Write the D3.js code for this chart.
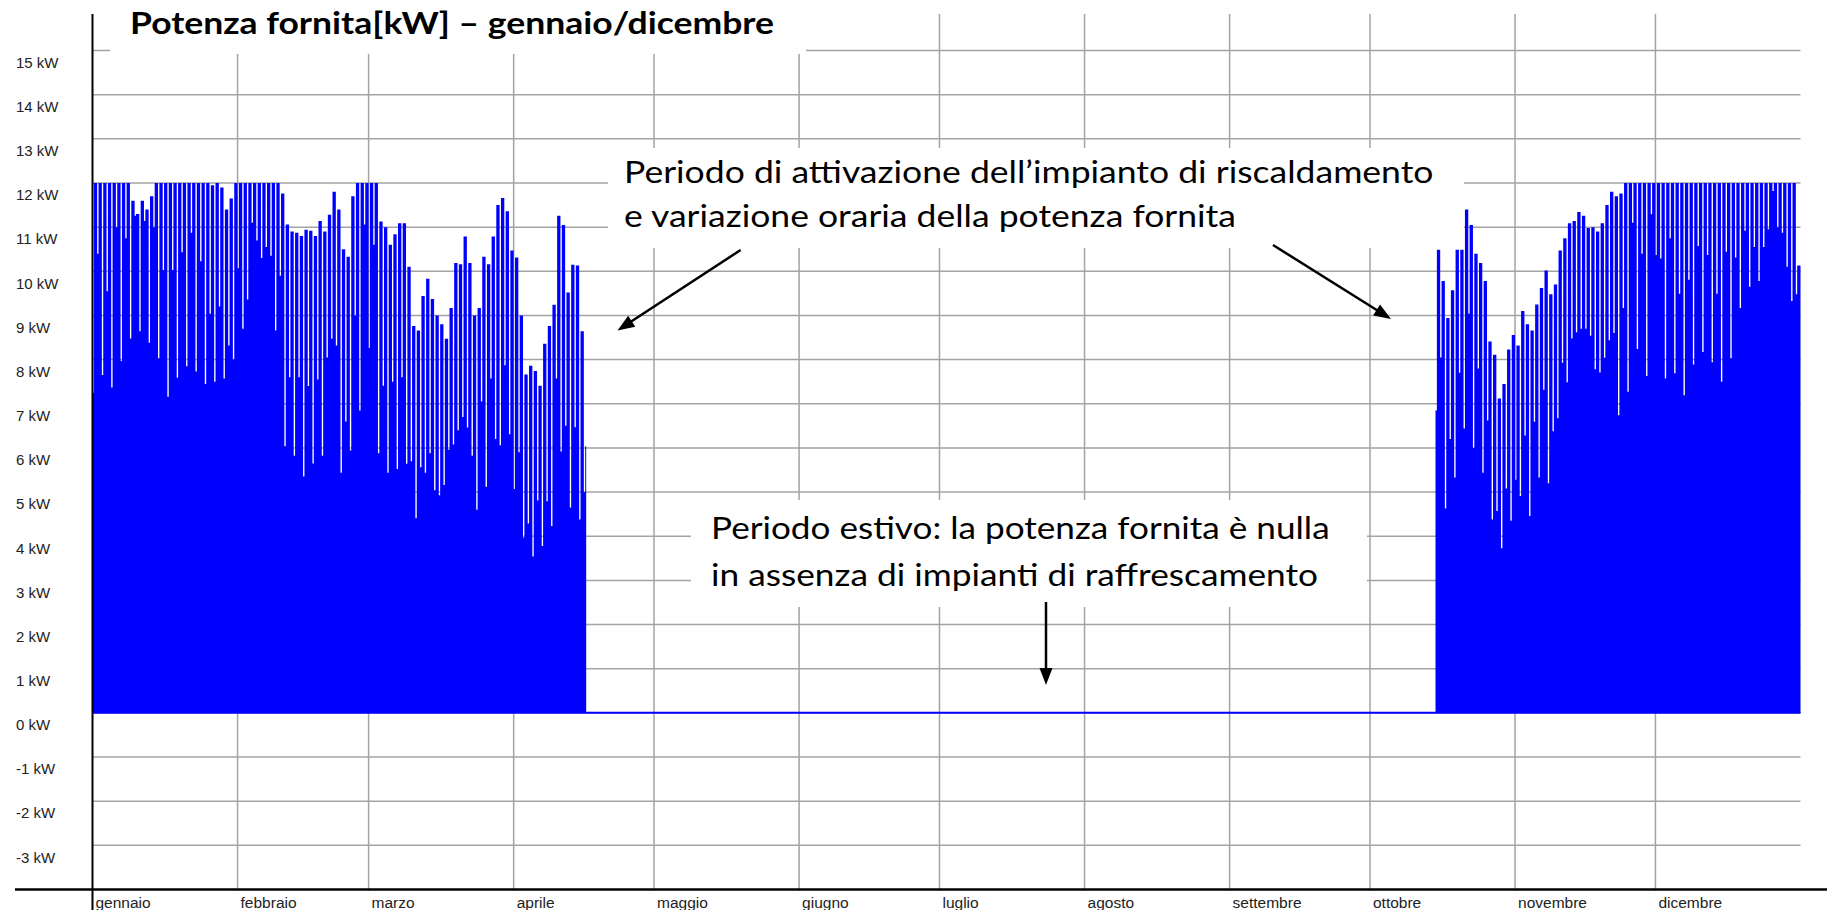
<!DOCTYPE html>
<html><head><meta charset="utf-8">
<script src="https://cdn.jsdelivr.net/npm/d3@7"></script>
<style>html,body{margin:0;padding:0;background:#fff;overflow:hidden}svg{display:block}</style>
</head><body>
<svg id="c" width="1827" height="910"></svg>
<script>
// ---------------- DATA ----------------
const mesi = ["gennaio","febbraio","marzo","aprile","maggio","giugno","luglio","agosto","settembre","ottobre","novembre","dicembre"];
const tickKW = [-3,-2,-1,0,1,2,3,4,5,6,7,8,9,10,11,12,13,14,15];
const titolo = "Potenza fornita[kW] – gennaio/dicembre";
const nota1 = ["Periodo di attivazione dell’impianto di riscaldamento","e variazione oraria della potenza fornita"];
const nota2 = ["Periodo estivo: la potenza fornita è nulla","in assenza di impianti di raffrescamento"];

const annoInizio = "2021-01-01", annoFine = "2022-01-01";
const oreRidotte = 7; // ore notturne a potenza ridotta (inizio giornata)

// periodo invernale 1: dal 1 gennaio (valori giornalieri, kW)
const inizio1 = "2021-01-01";
const fine1 = "2021-04-16T12:00";
const massimo1 = [
 12,12,12,12,12,12,12,12,11.6,11.3,11.6,11.4,11.7,12,12,12,12,12,12,12,12,12,12,12,12,11.95,12,11.9,11.4,11.65,12,
 12,12,12,12,12,12,12,12,12,11.76,11.06,10.9,10.87,10.8,10.94,10.92,10.8,11.14,10.9,11.28,11.8,11.4,10.5,10.33,11.7,12,12,12,
 12,12,11.13,11.0,10.6,10.84,11.09,11.09,10.1,8.76,8.66,9.44,9.83,9.37,9.0,8.8,8.47,9.17,10.19,10.16,10.79,10.19,9.0,9.17,10.33,10.16,10.79,11.5,11.66,11.36,10.47,
 10.31,9.0,7.66,7.86,7.74,7.41,8.36,8.76,9.24,11.26,11.05,9.52,10.15,10.13,8.64,6.04
];
const minimo1 = [
 7.25,10.4,7.65,9.55,7.37,11.0,7.97,10.75,8.48,11.26,8.64,11.14,8.38,11.0,8.03,10.03,7.16,10.03,7.59,10.43,7.85,10.87,7.73,10.23,7.45,9.04,7.5,9.2,7.57,8.32,8.0,
 10.07,8.7,9.36,11.1,10.7,10.3,10.55,10.35,8.66,9.9,6.04,7.6,5.82,7.6,5.35,7.4,5.65,7.55,5.82,8.05,8.47,8.32,5.44,6.6,5.94,9.0,6.85,11.06,
 8.26,10.6,5.88,7.41,5.44,7.5,5.52,7.6,5.64,5.7,4.41,5.56,5.44,5.88,5.04,4.93,5.16,5.96,6.08,6.4,6.7,6.46,5.82,4.6,7.05,5.12,7.57,6.2,6.06,7.87,6.31,
 5.07,5.9,3.97,4.29,3.54,4.81,3.78,4.79,4.23,7.57,5.92,6.5,4.65,6.47,4.38,5.0
];

// periodo invernale 2: dal 15 ottobre
const inizio2 = "2021-10-15";
const fine2 = "2022-01-01";
const massimo2 = [
 10.49,9.78,8.94,9.57,10.49,10.49,11.4,11.05,10.4,10.19,9.78,8.41,8.11,7.12,7.45,8.23,8.56,
 8.32,9.1,8.8,8.66,9.25,9.62,10.02,9.48,9.7,10.47,10.75,11.09,11.14,11.34,11.26,10.98,11.0,10.9,11.09,11.5,11.8,11.7,11.76,12,12,12,12,12,12,12,
 12,12,12,12,12,12,12,12,12,12,12,12,12,12,12,12,12,12,12,12,12,12,12,12,12,12,12,12,12,12,10.13
];
const minimo2 = [
 6.85,8.05,4.63,6.2,5.33,7.7,6.44,9.04,6.0,7.8,5.44,6.62,4.38,4.57,3.73,5.08,4.35,
 5.28,4.91,6.28,4.46,6.59,5.33,7.32,5.2,6.38,6.67,7.93,7.49,8.48,8.62,8.7,8.7,8.54,7.78,7.71,8.04,8.44,8.6,6.74,9.17,7.27,11.1,8.24,10.4,7.63,11.29,
 10.37,10.29,7.57,10.75,7.69,9.49,7.19,9.81,7.89,10.57,8.17,10.37,7.94,9.49,7.5,10.44,8.03,10.31,9.17,10.92,9.65,10.55,9.78,10.55,10.95,11.82,11.0,10.87,10.1,9.33,9.48
];

// ---------------- CHART ----------------
const svg = d3.select("#c");
const parse = d3.isoParse;
const t0 = parse(annoInizio), t1 = parse(annoFine);
const x = d3.scaleTime().domain([t0, t1]).range([92.5, 1800.5]);
const y = d3.scaleLinear().domain([-4, 15]).range([889.5, 50.5]);

const grid = svg.append("g").attr("stroke", "#a3a3a3").attr("stroke-width", 1.5);
tickKW.forEach(v => grid.append("line").attr("x1", 93).attr("x2", 1800.5).attr("y1", y(v)).attr("y2", y(v)));
const mesiDate = d3.timeMonth.range(t0, t1);
mesiDate.slice(1).forEach(m => grid.append("line").attr("x1", x(m)).attr("x2", x(m)).attr("y1", 14).attr("y2", 889));

// white boxes behind annotations (hide grid)
svg.append("rect").attr("x", 110).attr("y", 0).attr("width", 696).attr("height", 54).attr("fill", "#fff");
svg.append("rect").attr("x", 608).attr("y", 148).attr("width", 856).attr("height", 100).attr("fill", "#fff");
svg.append("rect").attr("x", 691).attr("y", 500).attr("width", 676).attr("height", 107).attr("fill", "#fff");

// data
function punti(inizio, fine, mx, mn) {
  const s = parse(inizio), pts = [];
  mx.forEach((v, i) => {
    const d = d3.timeDay.offset(s, i);
    pts.push({t: d, v: mn[i]});
    pts.push({t: d3.timeHour.offset(d, oreRidotte), v: v});
  });
  pts.push({t: parse(fine), v: mx[mx.length - 1]});
  return pts;
}
const area = d3.area().x(d => x(d.t)).y0(y(0)).y1(d => y(d.v)).curve(d3.curveStepAfter);
[[inizio1, fine1, massimo1, minimo1], [inizio2, fine2, massimo2, minimo2]].forEach(p => {
  svg.append("path").datum(punti(...p)).attr("d", area).attr("fill", "#0000ff");
});
// summer zero line
svg.append("line").attr("x1", x(t0)).attr("x2", x(t1)).attr("y1", y(0)).attr("y2", y(0))
  .attr("stroke", "#0000ff").attr("stroke-width", 2);

// axes
svg.append("line").attr("x1", 92.5).attr("x2", 92.5).attr("y1", 14).attr("y2", 910).attr("stroke", "#000").attr("stroke-width", 2);
svg.append("line").attr("x1", 15).attr("x2", 1827).attr("y1", 889.5).attr("y2", 889.5).attr("stroke", "#000").attr("stroke-width", 2.5);

svg.append("g").selectAll("text").data(tickKW).join("text")
  .attr("x", 16).attr("y", v => y(v) + 17.3)
  .attr("font-family", "Liberation Sans, Arial, sans-serif").attr("font-size", 15).attr("fill", "#222")
  .text(v => v + " kW");

svg.append("g").selectAll("text").data(mesiDate).join("text")
  .attr("x", d => x(d) + 3).attr("y", 907.5)
  .attr("font-family", "Liberation Sans, Arial, sans-serif").attr("font-size", 15.5).attr("fill", "#222")
  .text((d, i) => mesi[i]);

// title
svg.append("text").attr("x", 130).attr("y", 33.5)
  .attr("font-family", "Lato, sans-serif").attr("font-weight", 700).attr("font-size", 31)
  .attr("textLength", 644).attr("lengthAdjust", "spacingAndGlyphs").attr("fill", "#000").text(titolo);

// annotations
const fontNote = {family: "Lato, sans-serif", size: 31.5};
[[nota1, 624, [183.3, 227.3], [809.5, 612]], [nota2, 711, [539.3, 585.5], [618.6, 607]]].forEach(([righe, tx, ys, lens]) => {
  righe.forEach((r, i) => svg.append("text").attr("x", tx).attr("y", ys[i])
    .attr("font-family", fontNote.family).attr("font-size", fontNote.size)
    .attr("textLength", lens[i]).attr("lengthAdjust", "spacingAndGlyphs").attr("fill", "#000").text(r));
});

function freccia(sx, sy, ex, ey) {
  const L = 17, W = 6.5;
  const dx = ex - sx, dy = ey - sy, len = Math.hypot(dx, dy);
  const ux = dx / len, uy = dy / len, nx = -uy, ny = ux;
  const bx = ex - ux * L, by = ey - uy * L;
  svg.append("line").attr("x1", sx).attr("y1", sy).attr("x2", bx + ux * 2).attr("y2", by + uy * 2)
    .attr("stroke", "#000").attr("stroke-width", 2.5);
  svg.append("path").attr("d", `M${ex},${ey}L${bx + nx * W},${by + ny * W}L${bx - nx * W},${by - ny * W}Z`).attr("fill", "#000");
}
freccia(740.6, 250, 617.5, 330.5);
freccia(1273, 245, 1391, 319);
freccia(1046, 602, 1046, 685);
</script>
</body></html>
